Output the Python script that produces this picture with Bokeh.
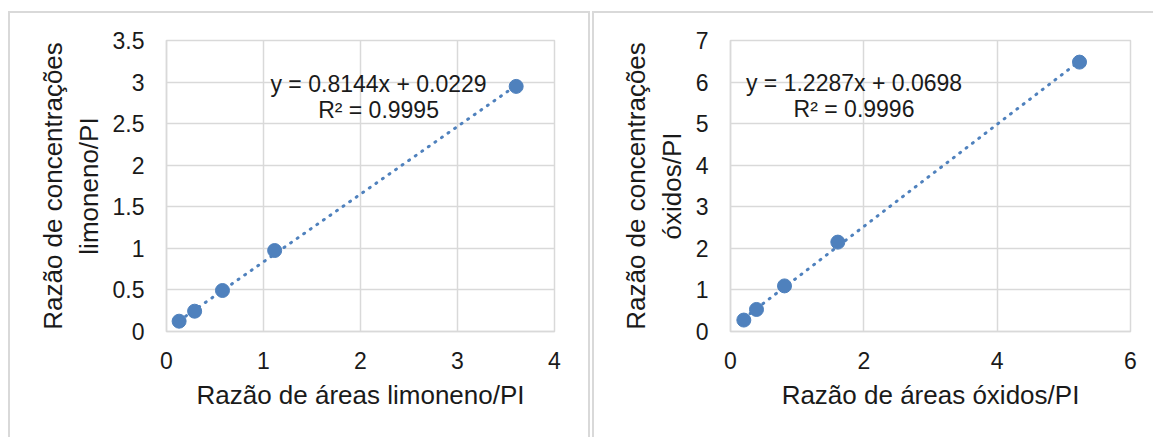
from bokeh.plotting import figure
from bokeh.layouts import row
from bokeh.models import Label, FixedTicker, Range1d
from bokeh.embed import file_html
from bokeh.resources import INLINE

# Limoneno / padrão interno
lim_area = [0.13, 0.29, 0.577, 1.115, 3.605]
lim_conc = [0.124, 0.244, 0.493, 0.974, 2.948]
lim_slope, lim_intercept, lim_r2 = 0.8144, 0.0229, 0.9995
lim_xticks = [0, 1, 2, 3, 4]
lim_yticks = [0, 0.5, 1, 1.5, 2, 2.5, 3, 3.5]
lim_xtitle = "Razão de áreas limoneno/PI"
lim_ytitle = "Razão de concentrações\nlimoneno/PI"

# Óxidos / padrão interno
ox_area = [0.20, 0.39, 0.81, 1.61, 5.235]
ox_conc = [0.275, 0.53, 1.097, 2.15, 6.48]
ox_slope, ox_intercept, ox_r2 = 1.2287, 0.0698, 0.9996
ox_xticks = [0, 2, 4, 6]
ox_yticks = [0, 1, 2, 3, 4, 5, 6, 7]
ox_xtitle = "Razão de áreas óxidos/PI"
ox_ytitle = "Razão de concentrações\nóxidos/PI"

BLUE = "#4F81BD"
GRID = "#D9D9D9"
FONT = "Liberation Sans"
TEXT = "#1a1a1a"
PANEL_BORDER = "2px solid #D9D9D9"


def fmt(v):
    return f"{v:g}"


def panel(xs, ys, slope, intercept, r2, xticks, yticks, xlabel, ylabel,
          width, left, right, eq_x, eq_y1, eq_y2):
    p = figure(width=width, height=424, output_backend="svg", toolbar_location=None,
               x_range=Range1d(xticks[0], xticks[-1]), y_range=Range1d(yticks[0], yticks[-1]),
               min_border_left=left, min_border_right=right,
               min_border_top=27, min_border_bottom=106)
    p.background_fill_color = "white"
    p.border_fill_color = "white"
    p.outline_line_color = GRID
    p.outline_line_width = 1.5

    for ax, ticks in ((p.xaxis[0], xticks), (p.yaxis[0], yticks)):
        ax.ticker = FixedTicker(ticks=ticks)
        ax.major_label_overrides = {t: fmt(t) for t in ticks}
        ax.major_tick_in = 0
        ax.major_tick_out = 0
        ax.minor_tick_in = 0
        ax.minor_tick_out = 0
        ax.axis_line_color = GRID
        ax.axis_line_width = 1.5
        ax.major_label_text_font = FONT
        ax.major_label_text_font_size = "23px"
        ax.major_label_text_color = TEXT
        ax.axis_label_text_font = FONT
        ax.axis_label_text_font_size = "26px"
        ax.axis_label_text_font_style = "normal"
        ax.axis_label_text_color = TEXT

    p.xaxis.axis_label = xlabel
    p.yaxis.axis_label = ylabel
    p.xaxis.major_label_standoff = 20
    p.xaxis.axis_label_standoff = 8
    p.yaxis.major_label_standoff = 22
    p.yaxis.axis_label_standoff = 6

    p.xgrid.ticker = FixedTicker(ticks=xticks)
    p.ygrid.ticker = FixedTicker(ticks=yticks)
    p.xgrid.grid_line_color = GRID
    p.ygrid.grid_line_color = GRID
    p.xgrid.grid_line_width = 1.5
    p.ygrid.grid_line_width = 1.5

    # linear trendline from the fitted equation
    tx = [min(xs), max(xs)]
    ty = [slope * v + intercept for v in tx]
    p.line(tx, ty, line_color=BLUE, line_width=3, line_dash="1 7", line_cap="round")

    p.scatter(xs, ys, size=14, fill_color=BLUE, line_color=BLUE)

    p.add_layout(Label(x=eq_x, y=eq_y1, text=f"y = {slope:.4f}x + {intercept:.4f}",
                       text_align="center", text_baseline="alphabetic",
                       text_font=FONT, text_font_size="23px", text_color=TEXT))
    p.add_layout(Label(x=eq_x, y=eq_y2, text=f"R² = {r2:.4f}",
                       text_align="center", text_baseline="alphabetic",
                       text_font=FONT, text_font_size="23px", text_color=TEXT))
    return p


p1 = panel(lim_area, lim_conc, lim_slope, lim_intercept, lim_r2, lim_xticks, lim_yticks,
           lim_xtitle, lim_ytitle, 578, 156, 34, 2.186, 2.98, 2.667)
p2 = panel(ox_area, ox_conc, ox_slope, ox_intercept, ox_r2, ox_xticks, ox_yticks,
           ox_xtitle, ox_ytitle, 559, 136, 23, 1.853, 5.976, 5.35)

box1 = row(p1, margin=(11, 0, 0, 8),
           styles={"border-top": PANEL_BORDER, "border-left": PANEL_BORDER,
                   "border-right": PANEL_BORDER})
box2 = row(p2, margin=(11, 0, 0, 2),
           styles={"border-top": PANEL_BORDER, "border-left": PANEL_BORDER})
layout = row(box1, box2, spacing=0)

with open("out.html", "w") as f:
    f.write(file_html(layout, INLINE))
